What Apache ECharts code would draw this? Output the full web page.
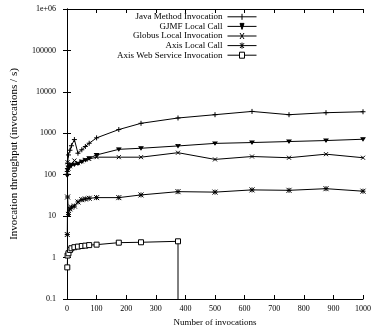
<!DOCTYPE html>
<html>
<head>
<meta charset="utf-8">
<script src="https://cdn.jsdelivr.net/npm/echarts@6/dist/echarts.min.js"></script>
<style>
  html, body { margin: 0; padding: 0; background: #fff; }
  #chart { width: 374px; height: 327px; }
</style>
</head>
<body>
<div id="chart"></div>
<script>
// Number of invocations per run (x values)
const invocations = [1, 2, 5, 10, 15, 25, 37, 50, 62, 75, 100, 175, 250, 375, 500, 625, 750, 875, 1000];
// Throughput in invocations / s for each implementation
const javaMethod    = [120, 190, 300, 390, 500, 705, 330, 400, 480, 575, 775, 1230, 1740, 2340, 2810, 3370, 2810, 3140, 3310];
const gjmfLocal     = [95, 130, 150, 160, 170, 175, 185, 205, 225, 250, 300, 410, 435, 495, 570, 598, 632, 668, 718];
const globusLocal   = [110, 200, 140, 160, 180, 220, 190, 210, 230, 240, 265, 265, 265, 340, 234, 275, 257, 313, 257];
const axisLocal     = [3.6, 29, 11, 15, 16.5, 17.5, 22, 25, 26, 27, 28, 28, 32.5, 39, 38, 43, 42, 46, 40];
// Web service runs stop after 375 invocations; the last sample collapses below the axis
const wsInvocations = [1, 2, 5, 10, 15, 25, 37, 50, 62, 75, 100, 175, 250, 375, 375];
const axisWebService = [0.58, 1.12, 1.27, 1.53, 1.68, 1.78, 1.84, 1.9, 1.94, 2.0, 2.05, 2.29, 2.34, 2.47, 0.001];

const seriesNames = [
  'Java Method Invocation',
  'GJMF Local Call',
  'Globus Local Invocation',
  'Axis Local Call',
  'Axis Web Service Invocation'
];
const yTickLabels = { 0.1: '0.1', 1: '1', 10: '10', 100: '100', 1000: '1000', 10000: '10000', 100000: '100000', 1000000: '1e+06' };

const FONT = 'Liberation Serif';

// point markers
const symPlus = 'path://M0,5L10,5M5,0L5,10';
const symCross = 'path://M0,0L10,10M10,0L0,10';
const symStar = 'path://M0,0L10,10M10,0L0,10M0,5L10,5M5,0L5,10';
const symTriDown = 'path://M0,0L10,0L5,8Z';
const symSquare = 'path://M0,0L10,0L10,10L0,10Z';

// legend keys: a line sample with the marker in the middle
const keyPlus = 'path://M0,3L29,3M14.5,0.5L14.5,5.5';
const keyTri = 'path://M0,3L29,3M12.5,1.5L16.5,1.5L14.5,4.5Z';
const keyCross = 'path://M0,3L29,3M12.5,1L16.5,5M16.5,1L12.5,5';
const keyStar = 'path://M0,3L29,3M12.5,1L16.5,5M16.5,1L12.5,5M14.5,0.5L14.5,5.5';
const keySquare = 'path://M0,3L12,3M17,3L29,3M12,0.5L17,0.5L17,5.5L12,5.5Z';

function makeSeries(name, xs, ys, symbol, size, fill) {
  return {
    name: name,
    type: 'line',
    data: xs.map((x, i) => [x, ys[i]]),
    symbol: symbol,
    symbolSize: size,
    symbolKeepAspect: false,
    showAllSymbol: true,
    animation: false,
    lineStyle: { color: '#000', width: 1 },
    itemStyle: { color: fill || '#000', borderColor: '#000', borderWidth: 1 },
    emphasis: { disabled: true },
    clip: true
  };
}

const wsSeries = makeSeries(seriesNames[4], wsInvocations, axisWebService, symSquare, 5, '#fff');
// final collapsed sample: draw only the line, no marker
const lastIdx = wsSeries.data.length - 1;
wsSeries.data[lastIdx] = { value: wsSeries.data[lastIdx], symbol: 'none' };

const chart = echarts.init(document.getElementById('chart'), null, { renderer: 'canvas' });

const axisCommon = {
  axisLine: { show: true, lineStyle: { color: '#000', width: 1 } },
  axisTick: { show: true, inside: true, length: 4, lineStyle: { color: '#000' } },
  splitLine: { show: false }
};

const legendKey = (name, icon, fill) => ({
  name: name,
  icon: icon,
  itemStyle: { color: fill, borderColor: '#000', borderWidth: 1 }
});

chart.setOption({
  backgroundColor: '#fff',
  animation: false,
  textStyle: { fontFamily: FONT },
  grid: { left: 67, right: 11, top: 9, bottom: 28, outerBoundsMode: 'none', containLabel: false },
  legend: {
    orient: 'vertical',
    align: 'right',
    right: 112,
    top: 7,
    padding: 5,
    itemWidth: 29,
    itemHeight: 6,
    itemGap: 0,
    symbolKeepAspect: false,
    selectedMode: false,
    textStyle: { fontFamily: FONT, fontSize: 9, color: '#000', lineHeight: 9.6 },
    data: [
      legendKey(seriesNames[0], keyPlus, '#000'),
      legendKey(seriesNames[1], keyTri, '#000'),
      legendKey(seriesNames[2], keyCross, '#000'),
      legendKey(seriesNames[3], keyStar, '#000'),
      legendKey(seriesNames[4], keySquare, '#fff')
    ]
  },
  xAxis: [
    Object.assign({}, axisCommon, {
      type: 'value', min: 0, max: 1000, interval: 100, position: 'bottom',
      name: 'Number of invocations', nameLocation: 'middle', nameGap: 19,
      nameTextStyle: { fontFamily: FONT, fontSize: 9, color: '#000' },
      axisLabel: { color: '#000', fontFamily: FONT, fontSize: 8, margin: 6, formatter: v => String(v) }
    }),
    Object.assign({}, axisCommon, {
      type: 'value', min: 0, max: 1000, interval: 100, position: 'top',
      axisLabel: { show: false }
    })
  ],
  yAxis: [
    Object.assign({}, axisCommon, {
      type: 'log', logBase: 10, min: 0.1, max: 1000000, position: 'left',
      name: 'Invocation throughput (invocations / s)', nameLocation: 'middle', nameGap: 47,
      nameTextStyle: { fontFamily: FONT, fontSize: 11, color: '#000' },
      axisLabel: {
        color: '#000', fontFamily: FONT, fontSize: 8, margin: 11,
        formatter: v => yTickLabels[v] !== undefined ? yTickLabels[v] : String(v)
      }
    }),
    Object.assign({}, axisCommon, {
      type: 'log', logBase: 10, min: 0.1, max: 1000000, position: 'right',
      axisLabel: { show: false }
    })
  ],
  series: [
    makeSeries(seriesNames[0], invocations, javaMethod, symPlus, 5),
    makeSeries(seriesNames[1], invocations, gjmfLocal, symTriDown, [4, 3]),
    makeSeries(seriesNames[2], invocations, globusLocal, symCross, 4),
    makeSeries(seriesNames[3], invocations, axisLocal, symStar, 5),
    wsSeries
  ]
});
</script>
</body>
</html>
